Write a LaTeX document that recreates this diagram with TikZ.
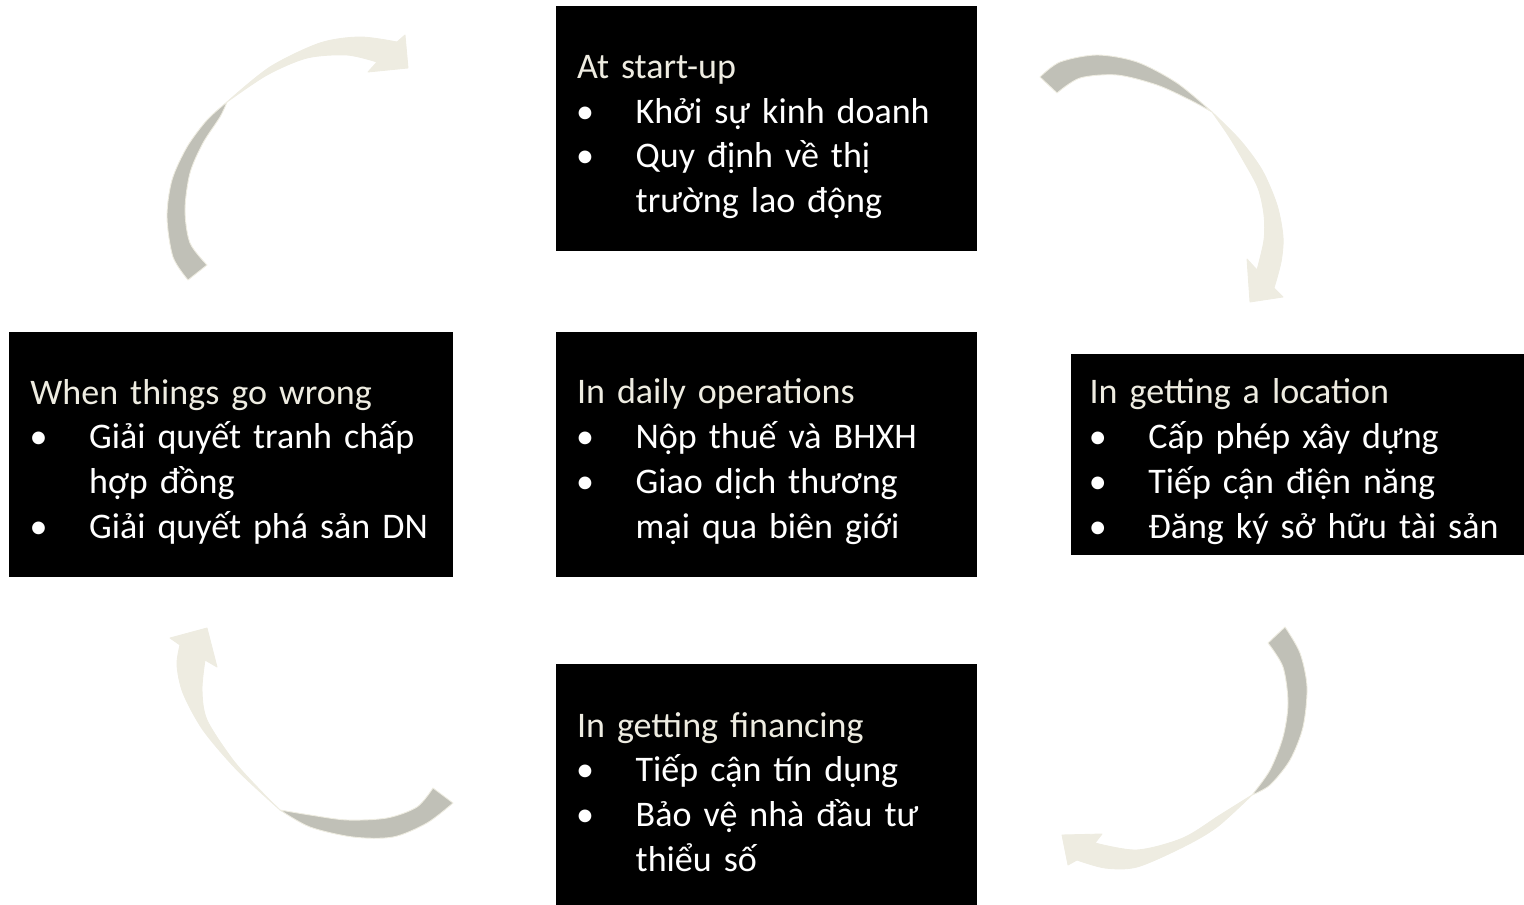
\documentclass[tikz,border=0pt]{standalone}
\usepackage{fontspec}
\setmainfont{Carlito}
\usepackage{tikz}
\usetikzlibrary{positioning}
\usepackage{xcolor}
\definecolor{headtxt}{HTML}{EEECE1}
\definecolor{bandlight}{HTML}{EEECE1}
\definecolor{banddark}{HTML}{C0C0B7}
\newcommand{\hd}[1]{\rule{0pt}{22.5pt}\textcolor{headtxt}{#1}}
\newcommand{\itm}{\makebox[33.4pt][l]{\hspace{-0.5pt}•}}
\newcommand{\cont}{\hspace*{33.4pt}}

\begin{document}
\begin{tikzpicture}[
  x=0.02cm, y=-0.02cm,
  stage/.style={fill=black, text=white, align=left, anchor=center,
    inner xsep=0.42cm, inner ysep=0pt, minimum height=4.9cm,
    font=\fontsize{20.5}{25.5}\selectfont},
  bandfront/.style={fill=bandlight, draw=bandlight, line width=0.5pt, line join=round},
  bandback/.style={fill=banddark, draw=bandlight, line width=0.5pt, line join=round}
]
\useasboundingbox (0,0) rectangle (1524,905);

% boxes
\node[stage, text width=7.58cm] (daily) at (766.5,454.5)
  {\hd{In daily operations}\\ \itm Nộp thuế và BHXH\\ \itm Giao dịch thương\\ \cont mại qua biên giới};
\node[stage, text width=7.58cm, above=1.6cm of daily] (startup)
  {\hd{At start-up}\\ \itm Khởi sự kinh doanh\\ \itm Quy định về thị\\ \cont trường lao động};
\node[stage, text width=7.58cm, minimum height=4.84cm, below=1.72cm of daily] (finance)
  {\hd{In getting financing}\\ \itm Tiếp cận tín dụng\\ \itm Bảo vệ nhà đầu tư\\ \cont thiểu số};
\node[stage, text width=8.04cm, left=2.04cm of daily] (wrong)
  {\hd{When things go wrong}\\ \itm Giải quyết tranh chấp\\ \cont hợp đồng\\ \itm Giải quyết phá sản DN};
\node[stage, text width=8.32cm, inner xsep=0.38cm, minimum height=4.02cm, right=1.86cm of daily] (location)
  {\hd{In getting a location}\\ \itm Cấp phép xây dựng\\ \itm Tiếp cận điện năng\\ \itm Đăng ký sở hữu tài sản};

% curved arrows, top left
\fill[bandback] plot[smooth] coordinates {(188,280) (173,257) (167,217) (172,180) (187,147) (207,120) (227,102)}
  -- plot[smooth] coordinates {(227,102) (220,117) (203,143) (190,173) (185,210) (190,243) (207,265)} -- cycle;
\fill[bandfront] plot[smooth] coordinates {(227,102) (270,67) (320,43) (360,37) (397,42)}
  -- (405,35) -- (408,68) -- (368,72)
  -- plot[smooth] coordinates {(377,62) (347,55) (307,58) (267,75) (227,102)} -- cycle;

% top right
\fill[bandback] plot[smooth] coordinates {(1040,77) (1060,62) (1097,55) (1137,62) (1177,83) (1212,112)}
  -- plot[smooth] coordinates {(1212,112) (1190,100) (1157,85) (1117,75) (1080,78) (1057,93)} -- cycle;
\fill[bandfront] plot[smooth] coordinates {(1212,112) (1240,140) (1262,170) (1277,205) (1283,237) (1281,262) (1274,288)}
  -- (1283,297) -- (1250,302) -- (1247,259)
  -- plot[smooth] coordinates {(1257,270) (1264,240) (1264,215) (1258,188) (1243,160) (1228,135) (1212,112)} -- cycle;

% bottom right
\fill[bandback] plot[smooth] coordinates {(1285,627) (1300,653) (1307,687) (1303,727) (1290,760) (1270,785) (1252,795)}
  -- plot[smooth] coordinates {(1252,795) (1270,770) (1283,737) (1288,703) (1283,667) (1268,643)} -- cycle;
\fill[bandfront] plot[smooth] coordinates {(1252,795) (1217,827) (1183,847) (1137,867) (1105,868) (1077,860)}
  -- (1068,865) -- (1062,835) -- (1102,834)
  -- plot[smooth] coordinates {(1095,843) (1137,850) (1183,838) (1220,815) (1252,795)} -- cycle;

% bottom left
\fill[bandback] plot[smooth] coordinates {(453,803) (427,823) (393,837) (353,837) (310,827) (280,810)}
  -- plot[smooth] coordinates {(280,810) (310,815) (347,820) (387,818) (417,807) (433,788)} -- cycle;
\fill[bandfront] plot[smooth] coordinates {(280,810) (237,770) (203,730) (183,693) (177,665) (180,645)}
  -- (170,638) -- (207,628) -- (217,667)
  -- plot[smooth] coordinates {(205,660) (202,690) (207,720) (233,760) (260,790) (280,810)} -- cycle;
\end{tikzpicture}
\end{document}
